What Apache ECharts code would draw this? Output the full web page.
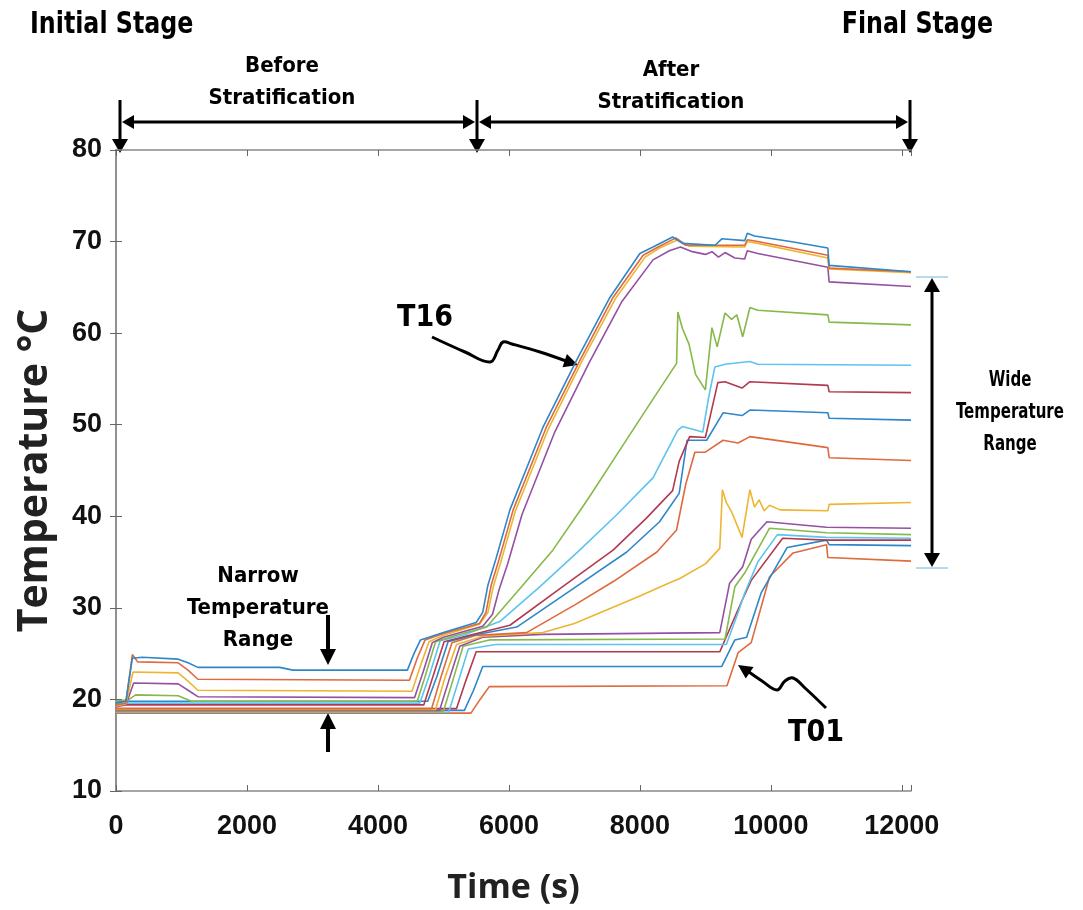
<!DOCTYPE html>
<html>
<head>
<meta charset="utf-8">
<title>Temperature</title>
<script src="https://cdn.jsdelivr.net/npm/echarts@6/dist/echarts.min.js"></script>
<style>
html, body { margin: 0; padding: 0; background: #fff; }
#main { width: 1083px; height: 910px; }
</style>
</head>
<body>
<div id="main"></div>
<script>
// sensor readings [time s, temperature C], T16 = top of tank, T01 = bottom
var t16 = [[0,19.6],[150,19.8],[250,24.5],[400,24.6],[950,24.4],[1100,24.0],[1250,23.5],[2500,23.5],[2700,23.2],[4450,23.2],[4550,25.0],[4650,26.5],[5000,27.3],[5500,28.4],[5600,29.5],[5680,32.5],[5800,35.3],[6015,40.7],[6519,49.7],[7038,57.1],[7542,63.9],[8000,68.7],[8200,69.4],[8500,70.5],[8650,69.8],[9150,69.6],[9250,70.3],[9600,70.1],[9640,70.9],[9750,70.6],[10300,70.0],[10870,69.3],[10890,67.4],[12140,66.7]];
var t15 = [[0,19.4],[150,19.6],[250,24.9],[330,24.1],[950,24.0],[1100,23.2],[1250,22.2],[4480,22.1],[4600,24.5],[4720,26.5],[5000,27.2],[5550,28.3],[5650,29.5],[5730,32.5],[5850,35.3],[6065,40.7],[6570,49.7],[7090,57.1],[7590,63.9],[8050,68.5],[8250,69.3],[8550,70.4],[8700,69.6],[9600,69.6],[9640,70.2],[9800,70.0],[10870,68.5],[10890,67.1],[12140,66.7]];
var t14 = [[0,19.3],[150,19.5],[260,23.0],[950,22.9],[1100,22.0],[1250,21.0],[4520,20.9],[4640,23.5],[4780,26.3],[5000,27.0],[5550,28.2],[5680,29.5],[5760,32.3],[5880,35.1],[6095,40.5],[6600,49.5],[7120,57.0],[7620,63.7],[8080,68.3],[8300,69.3],[8580,70.2],[8750,69.5],[9600,69.4],[9640,70.0],[9800,69.8],[10870,68.2],[10890,67.0],[12140,66.6]];
var t13 = [[0,19.2],[150,19.4],[270,21.8],[950,21.7],[1100,21.0],[1250,20.3],[4560,20.2],[4690,23.0],[4830,26.2],[5000,26.8],[5600,28.0],[5750,29.3],[5850,32.0],[5980,34.8],[6200,40.2],[6700,49.2],[7220,56.7],[7720,63.4],[8200,68.0],[8450,69.0],[8620,69.4],[8800,68.9],[9000,68.6],[9100,68.9],[9200,68.3],[9300,68.8],[9450,68.2],[9600,68.1],[9640,69.0],[9800,68.7],[10870,67.2],[10890,65.6],[12140,65.1]];
var t12 = [[0,19.8],[200,20.0],[300,20.5],[950,20.4],[1150,19.8],[4600,19.8],[4720,22.5],[4880,26.3],[5200,27.0],[5660,27.9],[6120,31.7],[6670,36.3],[7200,41.8],[7700,47.3],[8200,52.8],[8560,56.7],[8580,62.3],[8650,60.5],[8750,58.8],[8850,55.5],[9000,53.8],[9100,60.6],[9180,58.5],[9300,62.2],[9400,61.5],[9480,62.0],[9570,59.6],[9680,62.8],[9800,62.5],[10870,62.0],[10890,61.2],[12140,60.9]];
var t11 = [[0,19.6],[4640,19.6],[4780,22.5],[4950,26.4],[5300,27.0],[5860,28.5],[6470,32.3],[7080,36.3],[7650,40.2],[8200,44.2],[8580,49.4],[8650,49.8],[8960,49.2],[9050,53.0],[9145,56.3],[9300,56.6],[9680,56.9],[9800,56.6],[12140,56.5]];
var t10 = [[0,19.4],[4700,19.4],[4840,22.5],[5010,26.3],[5400,27.0],[6015,28.1],[6800,32.2],[7590,36.3],[8100,39.8],[8500,42.8],[8600,46.0],[8760,48.7],[9000,48.6],[9190,54.6],[9300,54.7],[9560,54.0],[9680,54.7],[10870,54.3],[10890,53.6],[12140,53.5]];
var t09 = [[0,19.8],[4760,19.8],[4900,22.5],[5070,26.3],[5450,27.0],[6120,27.9],[6960,32.0],[7800,36.1],[8300,39.4],[8600,42.5],[8720,48.3],[9020,48.3],[9270,51.3],[9560,51.0],[9680,51.6],[10870,51.3],[10890,50.7],[12140,50.5]];
var t08 = [[0,19.0],[4820,19.0],[4960,22.4],[5130,26.2],[5500,27.0],[6270,27.3],[7000,30.3],[7600,32.9],[8260,36.1],[8560,38.5],[8700,43.5],[8840,47.0],[9000,47.0],[9270,48.3],[9500,48.0],[9680,48.7],[10870,47.5],[10890,46.4],[12140,46.1]];
var t07 = [[0,18.9],[4880,18.9],[5020,22.3],[5200,26.0],[5600,26.9],[6520,27.3],[7000,28.3],[7500,29.8],[8000,31.3],[8410,32.6],[8610,33.2],[9000,34.8],[9220,36.5],[9260,42.9],[9320,41.5],[9400,40.5],[9560,37.7],[9680,42.9],[9750,41.0],[9820,41.8],[9900,40.6],[9980,41.2],[10140,40.7],[10870,40.6],[10890,41.3],[12140,41.5]];
var t06 = [[0,18.8],[4940,18.8],[5080,22.0],[5250,25.8],[5600,26.8],[6500,27.1],[9220,27.3],[9370,32.7],[9570,34.5],[9700,37.5],[9940,39.4],[10850,38.8],[12140,38.7]];
var t05 = [[0,18.7],[5000,18.7],[5140,22.0],[5300,25.8],[5700,26.5],[9300,26.6],[9450,32.3],[9600,33.8],[9980,38.7],[10850,38.2],[12140,38.0]];
var t04 = [[0,18.6],[5080,18.6],[5220,21.8],[5380,25.5],[5800,26.0],[9320,26.0],[9500,29.5],[9600,31.6],[9800,35.0],[10100,38.0],[10850,37.7],[12140,37.6]];
var t03 = [[0,19.0],[5200,19.0],[5340,22.0],[5500,25.2],[9220,25.2],[9450,29.0],[9560,30.8],[9700,33.0],[10180,37.6],[10850,37.4],[12140,37.4]];
var t02 = [[0,18.8],[5320,18.8],[5460,21.0],[5600,23.6],[9250,23.6],[9450,26.5],[9630,26.8],[9850,31.6],[10250,36.6],[10850,37.4],[10890,36.9],[12140,36.8]];
var t01 = [[0,18.5],[5420,18.5],[5560,20.0],[5700,21.4],[9330,21.5],[9500,25.1],[9700,26.2],[9980,33.4],[10340,36.0],[10850,36.9],[10870,35.5],[12140,35.1]];

var sensors = [t16, t15, t14, t13, t12, t11, t10, t09, t08, t07, t06, t05, t04, t03, t02, t01];
var sensorNames = ['T16','T15','T14','T13','T12','T11','T10','T09','T08','T07','T06','T05','T04','T03','T02','T01'];
// matlab default line colours
var lineColors = ['#2f86c8', '#de6a3e', '#edb531', '#9450a3', '#86b84a', '#5cc4ef', '#b23a50'];

var xTicks = [0, 2000, 4000, 6000, 8000, 10000, 12000];
var yTicks = [10, 20, 30, 40, 50, 60, 70, 80];

var narrowFont = "'DejaVu Sans Condensed', 'DejaVu Sans', sans-serif";
var axisFont = "'Liberation Sans', Arial, sans-serif";
var nameFont = "'Open Sans', 'Liberation Sans', sans-serif";

var dom = document.getElementById('main');
var myChart = echarts.init(dom);

var series = [];
for (var i = 0; i < sensors.length; i++) {
    series.push({
        name: sensorNames[i],
        type: 'line',
        data: sensors[i],
        showSymbol: false,
        symbol: 'none',
        lineStyle: { width: 1.6, color: lineColors[i % lineColors.length] },
        z: 10 - i * 0.1
    });
}

// arrowhead triangle, tip at (x,y), pointing along angle (radians)
function head(x, y, ang, len, w) {
    var bx = x - Math.cos(ang) * len, by = y - Math.sin(ang) * len;
    var px = -Math.sin(ang) * w, py = Math.cos(ang) * w;
    return {
        type: 'polygon',
        shape: { points: [[x, y], [bx + px, by + py], [bx - px, by - py]] },
        style: { fill: '#000' }
    };
}
function seg(x1, y1, x2, y2, w, c) {
    return {
        type: 'line',
        shape: { x1: x1, y1: y1, x2: x2, y2: y2 },
        style: { stroke: c || '#000', lineWidth: w || 3 }
    };
}
// bold annotation text, squeezed sideways to look like the narrow original font
function label(txt, x, y, size, align, sx) {
    return {
        type: 'text',
        x: x, y: y,
        scaleX: sx || 1,
        style: {
            text: txt, fill: '#000',
            font: 'bold ' + size + 'px ' + narrowFont,
            align: align || 'center', verticalAlign: 'middle',
            lineHeight: Math.round(size * 1.45)
        }
    };
}

var option = {
    animation: false,
    backgroundColor: '#fff',
    grid: { left: 116, right: 172, top: 150, bottom: 119, containLabel: false },
    xAxis: [{
        type: 'value', min: 0, max: 12140, interval: 2000,
        name: 'Time (s)', nameLocation: 'middle', nameGap: 80,
        nameTextStyle: { fontSize: 34, fontWeight: 'bold', color: '#222', fontFamily: nameFont },
        axisLine: { lineStyle: { color: '#888', width: 1.5 } },
        axisTick: { inside: true, length: 6, lineStyle: { color: '#666' } },
        axisLabel: {
            margin: 22, fontSize: 27, fontWeight: 'bold', color: '#111', fontFamily: axisFont,
            formatter: function (v) { return xTicks.indexOf(v) >= 0 ? String(v) : ''; }
        },
        splitLine: { show: false }
    }, {
        type: 'value', position: 'top', min: 0, max: 12140, interval: 2000,
        axisLine: { lineStyle: { color: '#888', width: 1.5 } },
        axisTick: { inside: true, length: 6, lineStyle: { color: '#666' } },
        axisLabel: { show: false },
        splitLine: { show: false }
    }],
    yAxis: [{
        type: 'value', min: 10, max: 80, interval: 10,
        name: 'Temperature °C', nameLocation: 'middle', nameGap: 60, nameRotate: 90,
        nameTextStyle: { fontSize: 41, fontWeight: 'bold', color: '#222', fontFamily: nameFont },
        axisLine: { show: true, lineStyle: { color: '#888', width: 1.5 } },
        axisTick: { show: true, inside: true, length: 6, lineStyle: { color: '#666' } },
        axisLabel: {
            margin: 14, fontSize: 27, fontWeight: 'bold', color: '#111', fontFamily: axisFont,
            formatter: function (v) { return yTicks.indexOf(v) >= 0 ? String(v) : ''; }
        },
        splitLine: { show: false }
    }, {
        type: 'value', position: 'right', min: 10, max: 80, interval: 10,
        axisLine: { show: true, lineStyle: { color: '#888', width: 1.5 } },
        axisTick: { show: true, inside: true, length: 6, lineStyle: { color: '#666' } },
        axisLabel: { show: false },
        splitLine: { show: false }
    }],
    series: series,
    graphic: [
        // stage headings
        label('Initial Stage', 30, 25, 30, 'left', 0.88),
        label('Final Stage', 993, 25, 30, 'right', 0.88),
        label('Before\nStratification', 282, 82, 22),
        label('After\nStratification', 671, 86, 22),
        seg(120, 100, 120, 142), head(120, 153, Math.PI / 2, 14, 8),
        seg(477, 100, 477, 142), head(477, 153, Math.PI / 2, 14, 8),
        seg(910, 100, 910, 142), head(910, 153, Math.PI / 2, 14, 8),
        seg(130, 122, 467, 122), head(122, 122, Math.PI, 12, 7), head(475, 122, 0, 12, 7),
        seg(489, 122, 900, 122), head(479, 122, Math.PI, 12, 7), head(908, 122, 0, 12, 7),
        // T16 marker
        label('T16', 425, 318, 30),
        {
            type: 'polyline',
            shape: { points: [[432, 337], [465, 352], [490, 362], [498, 350], [503, 342], [512, 344], [540, 352], [566, 361]], smooth: 0.4 },
            style: { stroke: '#000', lineWidth: 3, fill: null }
        },
        head(578, 365, Math.atan2(4, 12), 14, 7),
        // T01 marker
        label('T01', 816, 733, 30),
        {
            type: 'polyline',
            shape: { points: [[826, 708], [805, 688], [793, 678], [785, 681], [777, 690], [762, 681], [749, 672]], smooth: 0.4 },
            style: { stroke: '#000', lineWidth: 3, fill: null }
        },
        head(738, 665, Math.atan2(-8, -12), 14, 7),
        // narrow range
        label('Narrow\nTemperature\nRange', 258, 608, 22),
        seg(328, 615, 328, 650, 4), head(328, 665, Math.PI / 2, 16, 8),
        seg(328, 752, 328, 728, 4), head(328, 713, -Math.PI / 2, 16, 8),
        // wide range
        label('Wide\nTemperature\nRange', 1010, 412, 22, 'center', 0.76),
        seg(916, 277, 948, 277, 1, '#6fb6d8'), seg(916, 568, 948, 568, 1, '#6fb6d8'),
        seg(932, 292, 932, 553, 3), head(932, 278, -Math.PI / 2, 14, 8), head(932, 567, Math.PI / 2, 14, 8)
    ]
};

myChart.setOption(option, true);
</script>
</body>
</html>
